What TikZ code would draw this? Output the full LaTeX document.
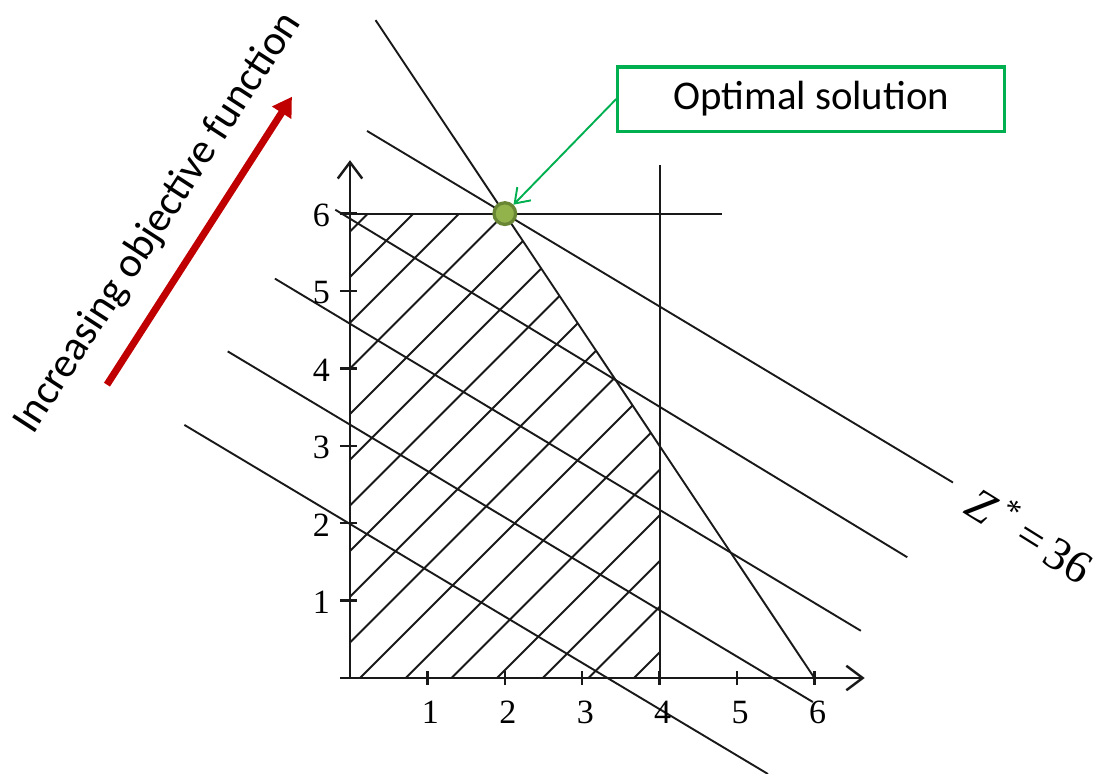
\documentclass[tikz,border=0pt]{standalone}
\usepackage{fontspec}
\setmainfont{Liberation Serif}
\newfontfamily\calibri{Carlito}
\usetikzlibrary{arrows.meta}
\definecolor{optgreen}{RGB}{0,176,80}
\definecolor{darkred}{RGB}{192,0,0}
\definecolor{olivefill}{RGB}{146,178,76}
\definecolor{olivedraw}{RGB}{104,134,52}

\begin{document}
\begin{tikzpicture}[
  axis/.style={line width=0.9pt, black!90, -{Straight Barb[length=6pt,width=9pt]}},
  tick/.style={line width=0.9pt, black!90},
  plotline/.style={line width=0.7pt, black!90},
  hatch/.style={line width=0.7pt, black!90},
  num/.style={font=\fontsize{12.5}{13}\selectfont, inner sep=1pt},
  callout/.style={rectangle, draw=optgreen, line width=1.2pt, minimum width=5cm,
                  minimum height=0.83cm, font=\calibri\fontsize{15}{18}\selectfont},
  pointer/.style={-{Straight Barb[length=5pt,width=7pt]}, optgreen, line width=0.7pt},
  incarrow/.style={-{Triangle[length=7pt,width=8pt]}, darkred, line width=2.6pt},
  optpt/.style={circle, fill=olivefill, draw=olivedraw, line width=1.2pt,
                minimum size=0.28cm, inner sep=0pt}
]
  \useasboundingbox (-4.522,-1.240) rectangle (9.677,8.760);

  % feasible region
  \begin{scope}
    \clip (0,0) -- (4,0) -- (4,3) -- (2,6) -- (0,6) -- cycle;
    \foreach \k in {-11,...,7}
      \draw[hatch] ({0.13+0.59*\k-7},-7) -- ++(14,14);
  \end{scope}

  % constraints
  \draw[plotline] (-0.13,6) -- (4.81,6);
  \draw[plotline] (4,0) -- (4,6.63);
  \draw[plotline] (0.33,8.5) -- (6,0);

  % objective lines
  \foreach \xa/\ya/\xb/\yb in {0.22/7.068/7.79/2.526, -0.19/6.05/7.20/1.56,
      -0.97/5.16/6.60/0.61, -1.58/4.22/5.98/-0.31, -2.14/3.27/5.40/-1.24}
    \draw[plotline] (\xa,\ya) -- (\xb,\yb);

  % axes
  \draw[axis] (0,0) -- (0,6.69);
  \draw[axis] (-0.13,0) -- (6.65,0);
  \foreach \i in {1,...,6} {
    \draw[tick] (\i,-0.09) -- (\i,0.09);
    \draw[tick] (-0.13,\i) -- (0.09,\i);
    \node[num] (xl\i) at (\i+0.04,-0.44) {\i};
    \node[num] (yl\i) at (-0.37,\i-0.02) {\i};
  }

  \node[optpt] (opt) at (2,6) {};
  \node[callout] (optbox) at (5.96,7.48) {Optimal solution};
  \draw[pointer] (optbox.west) -- (opt);

  \coordinate (incstart) at (-3.14,3.79);
  \coordinate (incend) at (-0.75,7.51);
  \draw[incarrow] (incstart) -- (incend);
  \node[font=\calibri\fontsize{15.5}{18}\selectfont, rotate=57] (inclabel) at (-2.48,5.88)
    {Increasing objective function};

  \node[font=\fontsize{17}{20}\selectfont, rotate=-32] (zlabel) at (8.8,1.87)
    {\textit{Z}\,\textsuperscript{*}\,=\,36};
\end{tikzpicture}
\end{document}
